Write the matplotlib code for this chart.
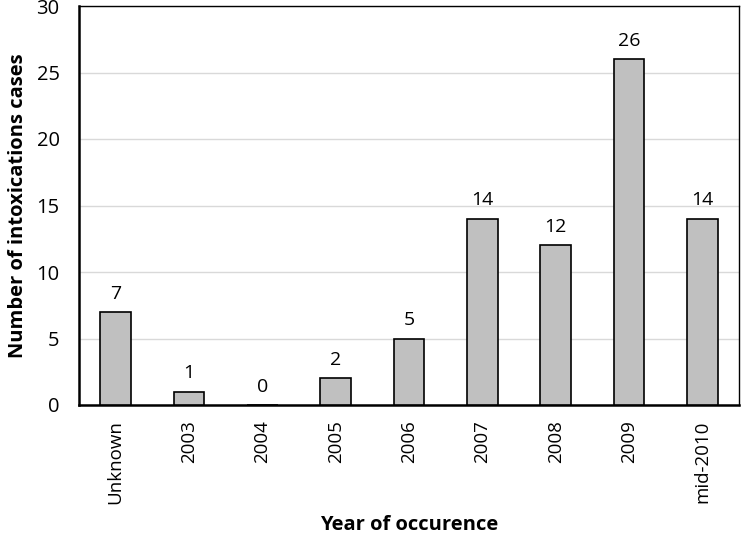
import matplotlib
matplotlib.use("Agg")
import matplotlib.pyplot as plt

categories = ["Unknown", "2003", "2004", "2005", "2006", "2007", "2008", "2009", "mid-2010"]
values = [7, 1, 0, 2, 5, 14, 12, 26, 14]
yticks = [0, 5, 10, 15, 20, 25, 30]

plt.rcParams['font.family'] = ['Open Sans', 'DejaVu Sans']

fig = plt.figure(figsize=(7.41, 5.36), dpi=100)
ax = fig.add_axes([79/741, 1 - 405/536, 660/741, 399/536])

x = list(range(len(categories)))
ax.bar(x, values, width=0.42, color='#c0c0c0', edgecolor='black', linewidth=1.2, zorder=3)
for xi, v in zip(x, values):
    ax.text(xi, v + 0.7, str(v), ha='center', va='bottom', fontsize=14)

ax.set_xlim(-0.5, len(categories) - 0.5)
ax.set_ylim(0, 30)
ax.set_yticks(yticks)
ax.set_yticklabels([str(t) for t in yticks], fontsize=14.5)
ax.set_xticks(x)
ax.set_xticklabels(categories, rotation=90, fontsize=13.5)
ax.tick_params(axis='y', length=0, pad=14)
ax.tick_params(axis='x', length=0, pad=11)
ax.grid(axis='y', color='#d9d9d9', linewidth=1, zorder=0)
for s in ['left', 'bottom']:
    ax.spines[s].set_linewidth(1.8)
for s in ['top', 'right']:
    ax.spines[s].set_linewidth(1.0)

ax.set_ylabel("Number of intoxications cases", fontsize=14.5, fontweight='bold', labelpad=6)
ax.set_xlabel("Year of occurence", fontsize=14.5, fontweight='bold', labelpad=8)

fig.savefig("out.png", dpi=100)
